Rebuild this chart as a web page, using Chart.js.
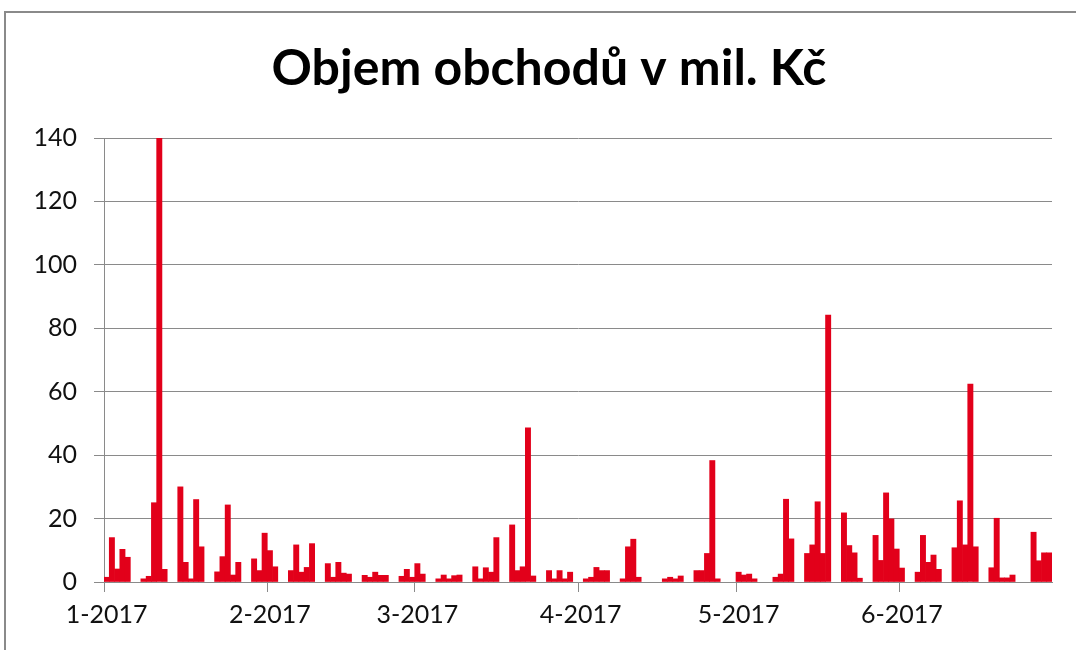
<!DOCTYPE html>
<html>
<head>
<meta charset="utf-8">
<script src="https://cdn.jsdelivr.net/npm/chart.js@4.4.1/dist/chart.umd.min.js"></script>
<style>
  html, body { margin: 0; padding: 0; background: #fff; }
  #wrap { position: relative; width: 1076px; height: 650px; overflow: hidden; }
  #frame { position: absolute; left: 4px; top: 11px; width: 1100px; height: 700px;
           border-top: 2px solid #8a8a8a; border-left: 2px solid #8a8a8a; pointer-events: none; }
</style>
</head>
<body>
<div id="wrap">
  <canvas id="chart" width="1076" height="650"></canvas>
  <div id="frame"></div>
</div>
<script>
// objem obchodu (mil. Kc) po dnech, null = neobchodovalo se
const jan = [1.5, 14.0, 4.1, 10.3, 7.8, null, null, 1.0, 1.8, 25.0, 140, 4.0, null, null, 30, 6.2, 1.0, 26, 11.1, null,
             null, 3.2, 8.0, 24.3, 2.2, 6.2, null, null, 7.3, 3.6];            // 2.1. - 31.1.
const feb = [15.4, 9.9, 4.8, null, null, 3.6, 11.7, 3.1, 4.6, 12.1, null, null, 5.8, 1.5, 6.2, 2.8, 2.5, null, null, 2.1,
             1.5, 3.1, 2.1, 2.1, null, null, 1.8, 4.0];
const mar = [1.5, 5.8, 2.5, null, null, 1.0, 2.2, 1.0, 2.0, 2.2, null, null, 4.8, 1.0, 4.5, 3.1, 14.0, null, null, 18.0,
             3.6, 4.8, 48.6, 1.9, null, null, 3.6, 1.0, 3.6, 1.0, 3.1];
const apr = [null, null, 1.0, 1.5, 4.6, 3.6, 3.6, null, null, 1.0, 11.1, 13.5, 1.5, null, null, null, null, 1.0, 1.5, 1.0,
             1.9, null, null, 3.6, 3.6, 9.0, 38.3, 1.0, null, null];
const may = [null, 3.1, 2.2, 2.5, 1.0, null, null, null, 1.5, 2.5, 26.1, 13.6, null, null, 9.0, 11.7, 25.3, 9.0, 84.2, null,
             null, 21.8, 11.5, 9.2, 1.2, null, null, 14.7, 6.8, 28.1, 19.9];
const jun = [10.4, 4.4, null, null, 3.1, 14.7, 6.2, 8.5, 4.0, null, null, 10.8, 25.6, 11.7, 62.4, 11.1, null, null, 4.5, 20.1,
             1.3, 1.3, 2.2, null, null, null, 15.7, 6.7, 9.2, 9.2];

const tickLabels = ['1-2017', '2-2017', '3-2017', '4-2017', '5-2017', '6-2017'];
const tickDays = [0, 31, 59, 90, 120, 151]; // index of the day under each month label

const values = [].concat(jan, feb, mar, apr, may, jun);
const days = values.map((v, i) => {
    const d = new Date(2017, 0, 2 + i);
    return d.getDate() + '.' + (d.getMonth() + 1) + '.' + d.getFullYear();
});

const gray = '#8a8a8a';

// title is centred a bit right of the canvas centre, like in the original
const shiftTitle = {
    id: 'shiftTitle',
    afterLayout(chart) {
        if (chart.titleBlock) chart.titleBlock.left = 46;
    }
};

new Chart(document.getElementById('chart'), {
    type: 'bar',
    data: {
        labels: days,
        datasets: [{
            label: 'Objem',
            data: values,
            backgroundColor: '#e2001a',
            borderWidth: 0,
            barPercentage: 1,
            categoryPercentage: 1
        }]
    },
    plugins: [shiftTitle],
    options: {
        responsive: false,
        animation: false,
        layout: { padding: { left: 10, right: 24, top: 0, bottom: 0 } },
        plugins: {
            legend: { display: false },
            tooltip: { enabled: false },
            title: {
                display: true,
                text: 'Objem obchodů v mil. Kč',
                color: '#000',
                font: { family: 'Lato', size: 50, weight: 'bold' },
                padding: { top: 39, bottom: 39 }
            }
        },
        scales: {
            x: {
                grid: {
                    drawOnChartArea: false,
                    tickLength: 10,
                    color: ctx => tickDays.includes(ctx.index) ? gray : 'rgba(0,0,0,0)'
                },
                border: { color: gray },
                ticks: {
                    autoSkip: false,
                    maxRotation: 0,
                    minRotation: 0,
                    padding: 8,
                    color: '#111',
                    font: { family: 'Lato', size: 25 },
                    callback: (val, i) => {
                        const k = tickDays.indexOf(i);
                        return k >= 0 ? tickLabels[k] : '';
                    }
                },
                afterFit: scale => { scale.height = 68; }
            },
            y: {
                min: 0,
                max: 140,
                grid: { color: gray, tickLength: 10 },
                border: { color: gray },
                ticks: {
                    stepSize: 20,
                    padding: 17,
                    color: '#111',
                    font: { family: 'Lato', size: 25 }
                },
                afterFit: scale => { scale.width = 94; }
            }
        }
    }
});
</script>
</body>
</html>
